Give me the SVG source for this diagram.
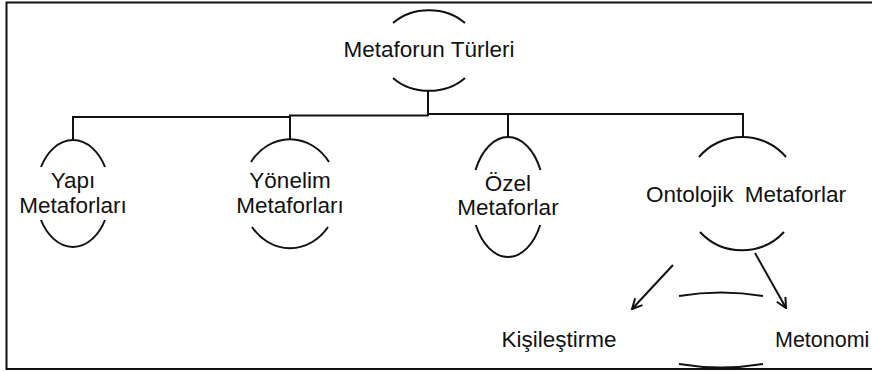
<svg xmlns="http://www.w3.org/2000/svg" width="872" height="372" viewBox="0 0 872 372">
<defs>
<style>
.t{font-family:"Liberation Sans",Arial,sans-serif;font-size:22.5px;fill:#111;text-anchor:middle}
.a{fill:none;stroke:#111;stroke-width:2}
.c{fill:none;stroke:#111;stroke-width:2}
</style>
<marker id="ah" viewBox="0 0 12 12" refX="11" refY="6" markerWidth="12" markerHeight="12" markerUnits="userSpaceOnUse" orient="auto">
<path d="M1,1 L11,6 L1,11" fill="none" stroke="#111" stroke-width="2"/>
</marker>
</defs>
<rect width="872" height="372" fill="#fff"/>
<path d="M872,2.5 H6.5 V369 H872" fill="none" stroke="#111" stroke-width="2"/>
<g id="connectors">
<path class="c" d="M428,90 V116"/>
<path class="c" d="M73,140 V117 H290"/>
<path class="c" d="M290,139 V115.5 H428" stroke-width="2.6"/>
<path class="c" d="M428,114 H743 V137"/>
<path class="c" d="M508,114 V137"/>
<path class="c" d="M673,265 L632,309" marker-end="url(#ah)"/>
<path class="c" d="M755,253 L786,308" marker-end="url(#ah)"/>
</g>
<g id="n-root">
<path class="a" d="M393,23 A49,40 0 0 1 465,23"/>
<path class="a" d="M393,78 A49,40 0 0 0 465,78"/>
<text class="t" x="429" y="57">Metaforun Türleri</text>
</g>
<g id="n-yapi">
<path class="a" d="M41,167 A37,54 0 0 1 105,167"/>
<path class="a" d="M41,220 A37,54 0 0 0 105,220"/>
<text class="t" x="73" y="188">Yapı</text>
<text class="t" x="73" y="213">Metaforları</text>
</g>
<g id="n-yonelim">
<path class="a" d="M251,162 A48,54.5 0 0 1 329,162"/>
<path class="a" d="M252,227 A48,54.5 0 0 0 328,227"/>
<text class="t" x="290" y="188">Yönelim</text>
<text class="t" x="290" y="213">Metaforları</text>
</g>
<g id="n-ozel">
<path class="a" d="M475.5,170 A36.4,60 0 0 1 540.5,170"/>
<path class="a" d="M475.8,225 A36.4,60 0 0 0 540.2,225"/>
<text class="t" x="508" y="191">Özel</text>
<text class="t" x="508" y="215">Metaforlar</text>
</g>
<g id="n-ontolojik">
<path class="a" d="M699,157 A57,56.5 0 0 1 786,157"/>
<path class="a" d="M700,232 A57,56.5 0 0 0 784,232"/>
<text class="t" x="746" y="202" word-spacing="5">Ontolojik Metaforlar</text>
</g>
<g id="n-kisilestirme">
<text class="t" x="559" y="347">Kişileştirme</text>
</g>
<g id="n-metonomi">
<text class="t" x="775" y="347" style="text-anchor:start;font-size:21.5px">Metonomi</text>
</g>
<g id="n-mid">
<path class="a" d="M679,296 Q721,289 763,296"/>
<path class="a" d="M679,364 Q721,371 763,364"/>
</g>
</svg>
